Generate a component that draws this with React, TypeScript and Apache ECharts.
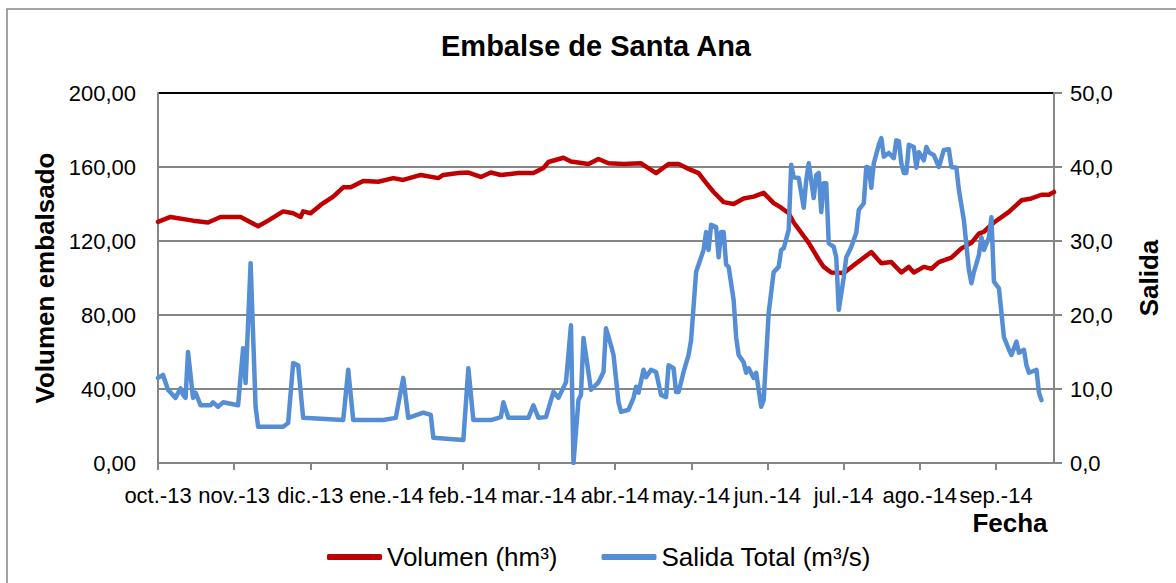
import React, { useEffect, useRef } from 'react';
import * as echarts from 'echarts';

const monthLabels = ['oct.-13', 'nov.-13', 'dic.-13', 'ene.-14', 'feb.-14', 'mar.-14', 'abr.-14', 'may.-14', 'jun.-14', 'jul.-14', 'ago.-14', 'sep.-14'];
const DAYS_PER_MONTH = 30.4375;
const LAST_DAY = 358;

// Volumen (hm³), day offset from 1 Oct 2013
const volumeDays = [0, 5, 14, 20, 25, 33, 40, 44, 50, 54, 57, 58, 61, 65, 70, 74, 77, 82, 88, 94, 98, 105, 112, 114, 120, 124, 129, 133, 137, 144, 150, 154, 156, 162, 165, 172, 176, 180, 186, 193, 199, 204, 208, 212, 216, 219, 222, 226, 230, 234, 238, 242, 246, 249, 252, 254, 260, 264, 266, 269, 274, 279, 285, 289, 293, 297, 300, 302, 306, 309, 312, 317, 321, 325, 328, 330, 334, 340, 345, 349, 353, 356, 358];
const volumeValues = [130.3, 133, 131, 130, 133, 133, 128, 131, 136, 135, 133, 136, 135, 139.5, 144, 149, 149, 152.4, 152, 154, 153, 155.7, 154, 155.7, 156.7, 157, 154.6, 157, 155.7, 156.7, 156.7, 159.5, 162.7, 165, 163, 161.6, 164.3, 162, 161.6, 162, 156.7, 161.6, 161.6, 159, 156.7, 151.4, 146.5, 141, 140, 143, 144, 146, 140.5, 138, 135, 130, 119, 110, 106, 103, 102.7, 108, 114, 108, 108.6, 103, 106, 103, 106, 105, 108.6, 111, 116, 119, 124, 125, 130, 135.7, 142, 143, 145, 145, 146.5];

// Salida Total (m³/s)
const outflowDays = [0, 2, 4, 7, 9, 10, 11, 12, 14, 15, 17, 21, 22, 24, 26, 32, 34, 35, 37, 39, 40, 50, 52, 54, 56, 58, 74, 76, 78, 90, 95, 98, 100, 106, 109, 110, 122, 124, 126, 133, 137, 138, 140, 148, 150, 152, 155, 158, 160, 163, 165, 166, 168, 169, 170, 173, 176, 178, 179, 181, 182, 184, 185, 188, 190, 191, 192, 194, 195, 197, 199, 201, 203, 204, 206, 207, 208, 210, 212, 213, 215, 218, 219, 220, 221, 223, 224, 225, 226, 227, 228, 230, 231, 232, 234, 235, 236, 238, 239, 241, 242, 244, 246, 248, 249, 250, 252, 253, 254, 256, 257, 258, 259, 260, 262, 263, 264, 265, 266, 267, 268, 270, 271, 272, 274, 275, 277, 279, 280, 282, 283, 284, 285, 286, 288, 289, 290, 292, 294, 295, 296, 297, 298, 299, 300, 302, 303, 304, 306, 307, 308, 310, 312, 314, 316, 317, 319, 320, 322, 324, 325, 326, 328, 329, 330, 332, 333, 334, 336, 338, 340, 341, 343, 344, 346, 347, 348, 351, 352, 353];
const outflowValues = [11.5, 11.9, 9.9, 8.8, 10.1, 9.2, 8.8, 15, 8.8, 9.5, 7.8, 7.8, 8.2, 7.6, 8.2, 7.8, 15.5, 10.8, 27, 7.6, 4.9, 4.9, 5.4, 13.5, 13.2, 6.1, 5.8, 12.6, 5.8, 5.8, 6.1, 11.5, 6.1, 6.8, 6.5, 3.4, 3.1, 12.8, 5.8, 5.8, 6.2, 8.2, 6.1, 6.1, 7.8, 6.1, 6.2, 9.6, 8.8, 10.9, 18.6, 0, 8.5, 9.2, 16.9, 9.9, 10.9, 12.3, 18.2, 15.9, 14.6, 8.2, 6.9, 7.2, 8.8, 10.3, 9.5, 12.6, 11.6, 12.6, 12.3, 9.2, 8.9, 13.2, 12.8, 9.6, 9.6, 12.3, 14.6, 16.6, 25.8, 28.8, 31.2, 28.8, 32.2, 31.9, 27.8, 31.2, 31.2, 26.8, 26.5, 22, 17, 14.6, 13.6, 12.2, 12.8, 11.5, 12.2, 7.6, 8.5, 20.3, 25.8, 26.5, 28.8, 29, 31.5, 40.3, 38.6, 38.5, 36.5, 34.5, 38.2, 40.5, 35.8, 38.9, 39.2, 33.9, 37.8, 37.8, 29.7, 29.2, 27.8, 20.7, 25.1, 27.8, 29.2, 31.1, 34.2, 35.1, 40, 39.9, 37.2, 40.5, 43, 43.9, 41.4, 41.9, 41.2, 43.6, 43.5, 40.5, 39.2, 39.2, 43, 42.7, 39.9, 42, 40.9, 42.7, 42, 41.6, 40, 42.3, 42.4, 40, 39.9, 36.9, 32.8, 26.1, 24.3, 25.8, 28.1, 30.5, 28.8, 30.5, 33.2, 24.5, 23.6, 17, 15.3, 14.6, 16.4, 14.9, 15.3, 13.2, 12.2, 12.6, 9.5, 8.5];

const FONT = '"Liberation Sans", Arial, sans-serif';
const GRID_GRAY = '#868686';

export default function App() {
  const ref = useRef<HTMLDivElement>(null);

  useEffect(() => {
    if (!ref.current) return;
    const chart = echarts.init(ref.current, null, { renderer: 'svg' });
    const monthTicks = monthLabels.map((_, i) => i * DAYS_PER_MONTH);
    const monthLabel = (v: number) => {
      const i = Math.round(v / DAYS_PER_MONTH);
      return Math.abs(v - i * DAYS_PER_MONTH) < 0.5 && i < monthLabels.length ? monthLabels[i] : '';
    };

    chart.setOption({
      animation: false,
      backgroundColor: '#ffffff',
      textStyle: { fontFamily: FONT, color: '#000' },
      title: {
        text: 'Embalse de Santa Ana',
        left: 441,
        top: 31,
        padding: 0,
        textStyle: { fontFamily: FONT, fontSize: 29, fontWeight: 'bold', color: '#000' },
      },
      graphic: [
        {
          type: 'rect',
          z: -10,
          silent: true,
          shape: { x: 7, y: 9, width: 1200, height: 600 },
          style: { fill: 'none', stroke: GRID_GRAY, lineWidth: 1.5 },
        },
      ],
      legend: {
        left: 322,
        top: 539,
        itemWidth: 55,
        itemHeight: 6,
        itemGap: 44,
        icon: 'roundRect',
        textStyle: { fontFamily: FONT, fontSize: 26, color: '#000' },
        data: ['Volumen (hm³)', 'Salida Total (m³/s)'],
      },
      grid: { left: 158, right: 122, top: 93, bottom: 120, containLabel: false },
      xAxis: {
        type: 'value',
        min: 0,
        max: LAST_DAY,
        interval: DAYS_PER_MONTH,
        name: 'Fecha',
        nameLocation: 'end',
        nameGap: -44,
        nameTextStyle: {
          fontFamily: FONT,
          fontSize: 26,
          fontWeight: 'bold',
          color: '#000',
          align: 'center',
          verticalAlign: 'top',
          padding: [47, 0, 0, 0],
        },
        splitLine: { show: false },
        axisLine: { show: true, lineStyle: { color: GRID_GRAY, width: 2 } },
        axisTick: { show: true, length: 7, customValues: monthTicks, lineStyle: { color: GRID_GRAY, width: 2 } },
        axisLabel: {
          customValues: monthTicks,
          formatter: monthLabel,
          margin: 21,
          fontFamily: FONT,
          fontSize: 22,
          color: '#000',
          showMinLabel: true,
          showMaxLabel: true,
        },
      },
      yAxis: [
        {
          type: 'value',
          min: 0,
          max: 200,
          interval: 40,
          position: 'left',
          name: 'Volumen embalsado',
          nameLocation: 'middle',
          nameRotate: 90,
          nameGap: 87,
          nameTextStyle: { fontFamily: FONT, fontSize: 26, fontWeight: 'bold', color: '#000' },
          axisLine: { show: true, lineStyle: { color: GRID_GRAY, width: 2 } },
          axisTick: { show: false },
          axisLabel: {
            margin: 22,
            fontFamily: FONT,
            fontSize: 22,
            color: '#000',
            formatter: (v: number) => v.toFixed(2).replace('.', ','),
          },
          splitLine: {
            show: true,
            lineStyle: { color: [GRID_GRAY, GRID_GRAY, GRID_GRAY, GRID_GRAY, GRID_GRAY, '#000000'], width: 2 },
          },
        },
        {
          type: 'value',
          min: 0,
          max: 50,
          interval: 10,
          position: 'right',
          name: 'Salida',
          nameLocation: 'middle',
          nameRotate: 90,
          nameGap: 82,
          nameTextStyle: { fontFamily: FONT, fontSize: 26, fontWeight: 'bold', color: '#000' },
          axisLine: { show: true, lineStyle: { color: GRID_GRAY, width: 2 } },
          axisTick: { show: true, inside: false, length: 8, lineStyle: { color: GRID_GRAY, width: 2 } },
          axisLabel: {
            margin: 16,
            fontFamily: FONT,
            fontSize: 22,
            color: '#000',
            formatter: (v: number) => v.toFixed(1).replace('.', ','),
          },
          splitLine: { show: false },
        },
      ],
      series: [
        {
          name: 'Volumen (hm³)',
          type: 'line',
          yAxisIndex: 0,
          showSymbol: false,
          symbol: 'none',
          color: '#C00000',
          lineStyle: { color: '#C00000', width: 4.5, join: 'round', cap: 'round' },
          data: volumeDays.map((d, i) => [d, volumeValues[i]]),
          z: 3,
        },
        {
          name: 'Salida Total (m³/s)',
          type: 'line',
          yAxisIndex: 1,
          showSymbol: false,
          symbol: 'none',
          color: '#558ED5',
          lineStyle: { color: '#558ED5', width: 4.5, join: 'round', cap: 'round' },
          data: outflowDays.map((d, i) => [d, outflowValues[i]]),
          z: 4,
        },
      ],
    });

    return () => chart.dispose();
  }, []);

  return (
    <div
      ref={ref}
      style={{ position: 'absolute', left: 0, top: 0, width: 1176, height: 583, background: '#fff' }}
    />
  );
}
